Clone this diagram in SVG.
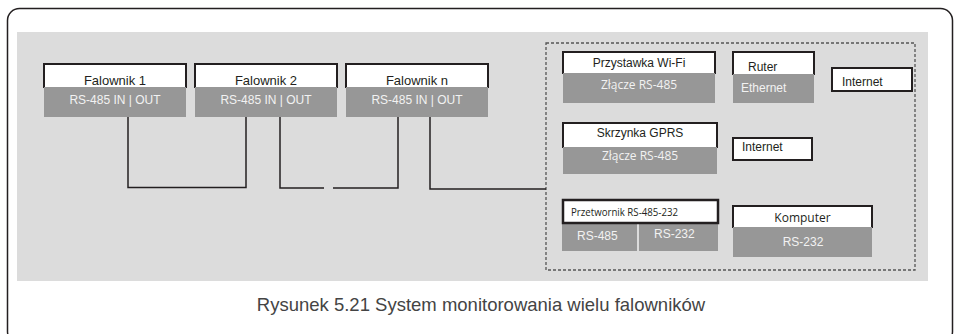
<svg xmlns="http://www.w3.org/2000/svg" width="955" height="334" viewBox="0 0 955 334">
<style>
  .frame{fill:none;stroke:#231f20;stroke-width:1.5}
  .panel{fill:#dcdcdc}
  .dash{fill:none;stroke:#555;stroke-width:1.3;stroke-dasharray:3 2}
  .top{fill:#fff;stroke:#231f20;stroke-width:2}
  .box{fill:#fff;stroke:#231f20;stroke-width:2}
  .port{fill:#979797}
  .t{font-family:"Liberation Sans",Arial,sans-serif;font-size:12px;fill:#231f20}
  .t13{font-family:"Liberation Sans",Arial,sans-serif;font-size:13px;fill:#231f20}
  .w{font-family:"Liberation Sans",Arial,sans-serif;font-size:12px;fill:#f2f2f2}
  .o{font-family:"Open Sans","Noto Sans",sans-serif;font-size:12px;fill:#f2f2f2}
  .od{font-family:"Open Sans","Noto Sans",sans-serif;font-size:12px;fill:#231f20}
  .c{text-anchor:middle}
  .cap{font-family:"Liberation Sans",Arial,sans-serif;font-size:18.5px;fill:#444;text-anchor:middle}
  .wire{fill:none;stroke:#231f20;stroke-width:1.5}
</style>
<rect class="frame" x="7.5" y="8.5" width="945" height="335" rx="12"/>
<rect class="panel" x="17" y="32" width="911" height="249"/>
<rect class="dash" x="546" y="43" width="369" height="227"/>

<g id="connectors">
  <polyline class="wire" points="128,117 128,187.5 246,187.5 246,117"/>
  <polyline class="wire" points="280,117 280,188 324,188"/>
  <polyline class="wire" points="333,188 398,188 398,117"/>
  <polyline class="wire" points="430,117 430,189 546,189"/>
</g>

<g id="falownik1">
  <path class="top" d="M44,88 V64 H186 V88"/>
  <rect class="port" x="44" y="87" width="142" height="30"/>
  <text class="t13 c" x="115" y="85">Falownik 1</text>
  <text class="w c" x="115" y="104">RS-485 IN | OUT</text>
</g>
<g id="falownik2">
  <path class="top" d="M195,88 V64 H337 V88"/>
  <rect class="port" x="195" y="87" width="142" height="30"/>
  <text class="t13 c" x="266" y="85">Falownik 2</text>
  <text class="w c" x="266" y="104">RS-485 IN | OUT</text>
</g>
<g id="falownikn">
  <path class="top" d="M346,88 V64 H488 V88"/>
  <rect class="port" x="346" y="87" width="142" height="30"/>
  <text class="t13 c" x="417" y="85">Falownik n</text>
  <text class="w c" x="417" y="104">RS-485 IN | OUT</text>
</g>

<g id="wifi">
  <path class="top" d="M563,74 V52 H715 V74"/>
  <rect class="port" x="563" y="73" width="152" height="30"/>
  <text class="t c" x="639" y="67">Przystawka Wi-Fi</text>
  <text class="o c" x="639" y="89">Złącze RS-485</text>
</g>
<g id="ruter">
  <path class="top" d="M733,75 V52 H814 V75"/>
  <rect class="port" x="733" y="74" width="81" height="29"/>
  <text class="t" x="748" y="71">Ruter</text>
  <text class="w" x="741" y="92">Ethernet</text>
</g>
<g id="internet1">
  <rect class="box" x="832" y="68" width="80" height="23"/>
  <text class="t" x="842" y="86">Internet</text>
</g>

<g id="gprs">
  <path class="top" d="M563,148 V123 H717 V148"/>
  <rect class="port" x="563" y="147" width="154" height="27"/>
  <text class="t c" x="640" y="137">Skrzynka GPRS</text>
  <text class="o c" x="640" y="160">Złącze RS-485</text>
</g>
<g id="internet2">
  <rect class="box" x="733" y="138" width="79" height="22"/>
  <text class="t" x="742" y="151">Internet</text>
</g>

<g id="przetwornik">
  <rect class="port" x="562" y="222" width="75" height="29"/>
  <rect class="port" x="639" y="222" width="79" height="29"/>
  <rect class="box" x="563" y="200" width="155" height="23" style="stroke-width:2.5"/>
  <text class="od" x="571" y="216" style="font-size:10.5px" textLength="107" lengthAdjust="spacingAndGlyphs">Przetwornik RS-485-232</text>
  <text class="w" x="577" y="240">RS-485</text>
  <text class="w" x="654" y="238">RS-232</text>
</g>
<g id="komputer">
  <path class="top" d="M733,228 V206 H872 V228"/>
  <rect class="port" x="733" y="227" width="139" height="30"/>
  <text class="od c" x="802.5" y="222">Komputer</text>
  <text class="w c" x="803" y="246">RS-232</text>
</g>

<text class="cap" x="481" y="311">Rysunek 5.21 System monitorowania wielu falowników</text>
</svg>
